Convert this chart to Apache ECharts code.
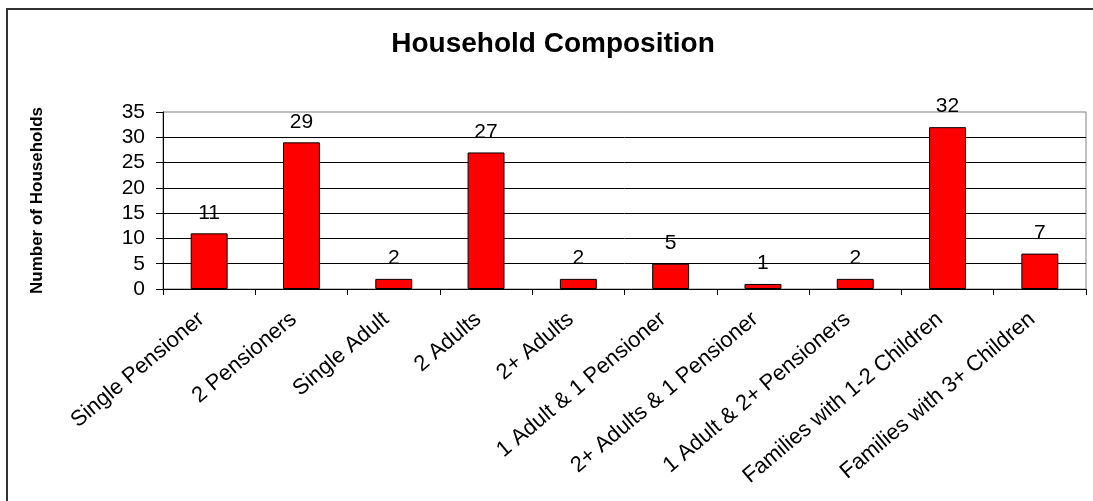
<!DOCTYPE html>
<html>
<head>
<meta charset="utf-8">
<style>
  html, body { margin: 0; padding: 0; background: #fff; }
  #chart { width: 1093px; height: 501px; }
</style>
<script src="https://cdn.jsdelivr.net/npm/echarts@6/dist/echarts.min.js"></script>
</head>
<body>
<div id="chart"></div>
<script>
// Household types and the number of households in each
const categories = [
  'Single Pensioner',
  '2 Pensioners',
  'Single Adult',
  '2 Adults',
  '2+ Adults',
  '1 Adult & 1 Pensioner',
  '2+ Adults & 1 Pensioner',
  '1 Adult & 2+ Pensioners',
  'Families with 1-2 Children',
  'Families with 3+ Children'
];
const households = [11, 29, 2, 27, 2, 5, 1, 2, 32, 7];

const yMin = 0;
const yMax = 35;
const yStep = 5;

const FONT = '"Liberation Sans", Arial, sans-serif';

const chart = echarts.init(document.getElementById('chart'), null, { renderer: 'canvas' });

chart.setOption({
  backgroundColor: '#ffffff',
  animation: false,
  textStyle: { fontFamily: FONT, color: '#000' },
  graphic: [{
    type: 'rect',
    silent: true,
    shape: { x: 7, y: 9, width: 1200, height: 600 },
    style: { fill: 'none', stroke: '#333', lineWidth: 2 }
  }],
  title: {
    text: 'Household Composition',
    left: 548,
    top: 25,
    textAlign: 'center',
    textStyle: { fontFamily: FONT, fontSize: 28, fontWeight: 'bold', color: '#000' }
  },
  grid: {
    left: 163,
    right: 7,
    top: 112,
    bottom: 212,
    show: true,
    borderColor: '#808080',
    borderWidth: 1,
    backgroundColor: 'transparent'
  },
  xAxis: {
    type: 'category',
    data: categories,
    axisLine: { lineStyle: { color: '#000', width: 1 } },
    axisTick: { show: true, length: 6, lineStyle: { color: '#000' } },
    axisLabel: {
      rotate: 40,
      interval: 0,
      margin: 21,
      padding: [0, 10, 0, 0],
      fontFamily: FONT,
      fontSize: 22,
      color: '#000'
    },
    splitLine: { show: false }
  },
  yAxis: {
    type: 'value',
    min: yMin,
    max: yMax,
    interval: yStep,
    name: 'Number of Households',
    nameLocation: 'middle',
    nameRotate: 90,
    nameGap: 117,
    nameTextStyle: { fontFamily: FONT, fontSize: 17, fontWeight: 'bold', color: '#000' },
    axisLine: { show: true, lineStyle: { color: '#000', width: 1 } },
    axisTick: { show: true, length: 7, lineStyle: { color: '#000' } },
    axisLabel: { fontFamily: FONT, fontSize: 21, color: '#000', margin: 18 },
    splitLine: { show: true, showMaxLine: false, lineStyle: { color: '#000', width: 1 } }
  },
  series: [{
    type: 'bar',
    data: households,
    barWidth: '40%',
    itemStyle: { color: '#ff0000', borderColor: '#000', borderWidth: 1 },
    label: {
      show: true,
      position: 'top',
      distance: 10,
      fontFamily: FONT,
      fontSize: 21,
      color: '#000'
    }
  }]
});
</script>
</body>
</html>
